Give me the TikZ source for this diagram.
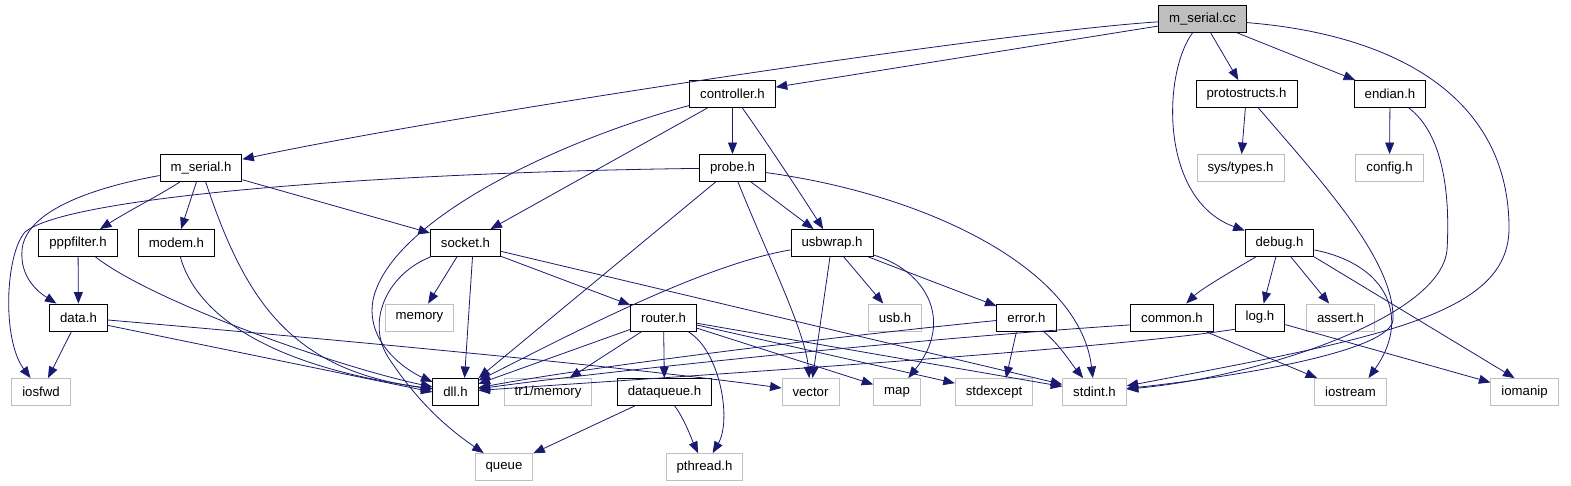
\documentclass[tikz,border=0pt]{standalone}
\usepackage{fontspec}
\setmainfont{Liberation Sans}
\usetikzlibrary{arrows.meta}
\definecolor{incblue}{HTML}{191970}
\definecolor{sysgray}{HTML}{BFBFBF}
\begin{document}
\begin{tikzpicture}[x=1pt,y=-1pt,
  every node/.style={rectangle,minimum height=27pt,inner xsep=10.5pt,inner ysep=0pt,font=\fontsize{13.2}{15}\selectfont},
  hdr/.style={draw=black,line width=0.9pt,fill=white},
  sys/.style={draw=sysgray,line width=0.9pt,fill=white},
  root/.style={draw=black,line width=0.9pt,fill=sysgray},
  inc/.style={draw=incblue,line width=0.8pt,-{Triangle[length=11.5pt,width=9pt]}}]
\useasboundingbox (0,0) rectangle (1571,485);
\node[root] (mserialcc) at (1202.5,19) {m\_serial.cc};
\node[hdr] (controller) at (732.5,94) {controller.h};
\node[hdr] (protostructs) at (1246.5,94) {protostructs.h};
\node[hdr] (endian) at (1390,94) {endian.h};
\node[hdr] (mserialh) at (201,168) {m\_serial.h};
\node[hdr] (probe) at (732.5,168) {probe.h};
\node[sys] (systypes) at (1240.5,168) {sys/types.h};
\node[sys] (config) at (1389.5,168) {config.h};
\node[hdr] (pppfilter) at (78,243) {pppfilter.h};
\node[hdr] (modem) at (176.5,243) {modem.h};
\node[hdr] (socket) at (465.5,243) {socket.h};
\node[hdr] (usbwrap) at (832,243) {usbwrap.h};
\node[hdr] (debug) at (1279.5,243) {debug.h};
\node[hdr] (data) at (78.5,317.5) {data.h};
\node[sys] (memory) at (419.5,317.5) {memory};
\node[hdr] (router) at (663.5,317.5) {router.h};
\node[sys] (usb) at (895,317.5) {usb.h};
\node[hdr] (error) at (1026.5,317.5) {error.h};
\node[hdr] (common) at (1172,317.5) {common.h};
\node[hdr] (log) at (1260,317.5) {log.h};
\node[sys] (assert) at (1340.5,317.5) {assert.h};
\node[sys] (iosfwd) at (41,392) {iosfwd};
\node[hdr] (dll) at (455.5,392) {dll.h};
\node[sys] (tr1memory) at (548,392) {tr1/memory};
\node[hdr] (dataqueue) at (664.5,392) {dataqueue.h};
\node[sys] (vector) at (810.5,392) {vector};
\node[sys] (map) at (897,392) {map};
\node[sys] (stdexcept) at (994,392) {stdexcept};
\node[sys] (stdint) at (1094.5,392) {stdint.h};
\node[sys] (iostream) at (1350.5,392) {iostream};
\node[sys] (iomanip) at (1524.5,392) {iomanip};
\node[sys] (queue) at (504,467) {queue};
\node[sys] (pthread) at (704.5,467) {pthread.h};
\draw[inc] (mserialcc) .. controls (1000,32) and (450,115) .. (mserialh);
\draw[inc] (mserialcc) -- (controller);
\draw[inc] (mserialcc) -- (protostructs);
\draw[inc] (mserialcc) -- (endian);
\draw[inc] (mserialcc) .. controls (1162,75) and (1160,200) .. (debug);
\draw[inc] (mserialcc) .. controls (1400,35) and (1510,100) .. (1509,230) .. controls (1507,315) and (1380,338) .. (stdint);
\draw[inc] (controller) -- (probe);
\draw[inc] (controller) .. controls (765,140) and (795,185) .. (usbwrap);
\draw[inc] (controller) -- (socket);
\draw[inc] (controller) .. controls (560,140) and (390,220) .. (373,300) .. controls (365,345) and (410,372) .. (dll);
\draw[inc] (mserialh) .. controls (160,195) and (130,210) .. (pppfilter);
\draw[inc] (mserialh) -- (modem);
\draw[inc] (mserialh) -- (socket);
\draw[inc] (mserialh) .. controls (245,300) and (290,370) .. (dll);
\draw[inc] (mserialh) .. controls (80,190) and (25,215) .. (22,250) .. controls (20,275) and (35,290) .. (data);
\draw[inc] (probe) .. controls (400,172) and (70,195) .. (25,232) .. controls (5,255) and (2,340) .. (iosfwd);
\draw[inc] (probe) -- (usbwrap);
\draw[inc] (probe) -- (dll.north east);
\draw[inc] (probe) .. controls (765,250) and (805,330) .. (vector);
\draw[inc] (probe) .. controls (930,195) and (1080,270) .. (stdint);
\draw[inc] (pppfilter) -- (data);
\draw[inc] (pppfilter) .. controls (150,300) and (330,365) .. (dll);
\draw[inc] (modem) .. controls (195,310) and (260,365) .. (dll);
\draw[inc] (data) -- (iosfwd);
\draw[inc] (data.-15) -- (dll.west);
\draw[inc] (data) .. controls (400,345) and (650,370) .. (vector);
\draw[inc] (socket) -- (memory);
\draw[inc] ([xshift=7pt]socket.south) -- ([xshift=9pt]dll.north);
\draw[inc] (socket) -- (router);
\draw[inc] (socket) .. controls (385,275) and (365,325) .. (390,360) .. controls (420,405) and (450,430) .. (queue);
\draw[inc] (socket) -- (stdint);
\draw[inc] (usbwrap) .. controls (700,265) and (560,340) .. (dll);
\draw[inc] (usbwrap) -- (vector);
\draw[inc] (usbwrap) -- (usb);
\draw[inc] (usbwrap) .. controls (925,270) and (955,320) .. (map);
\draw[inc] (usbwrap) -- (error);
\draw[inc] (router) -- (dll);
\draw[inc] (router) -- (tr1memory);
\draw[inc] (router) -- (dataqueue);
\draw[inc] (router) .. controls (720,350) and (732,420) .. (pthread);
\draw[inc] (router) -- (map);
\draw[inc] (router) -- (stdexcept);
\draw[inc] (router) -- (stdint);
\draw[inc] (dataqueue) -- (queue);
\draw[inc] (dataqueue) .. controls (685,420) and (692,440) .. (pthread);
\draw[inc] (error) .. controls (850,335) and (600,365) .. (dll);
\draw[inc] ([xshift=-10pt]error.south) -- ([xshift=12pt]stdexcept.north);
\draw[inc] (error) .. controls (1060,345) and (1070,362) .. (stdint);
\draw[inc] (common.-170) .. controls (900,340) and (600,372) .. (dll);
\draw[inc] (common) -- (iostream);
\draw[inc] (log.-155) .. controls (1100,350) and (700,375) .. (dll);
\draw[inc] (log) -- (iomanip);
\draw[inc] (debug) .. controls (1225,275) and (1200,290) .. (common);
\draw[inc] (debug) -- (log);
\draw[inc] (debug) -- (assert);
\draw[inc] (debug.south east) -- ([xshift=-10pt]iomanip.north);
\draw[inc] (debug) .. controls (1390,265) and (1410,320) .. ([xshift=18pt]iostream.north);
\draw[inc] (protostructs) -- (systypes);
\draw[inc] (protostructs) .. controls (1320,180) and (1395,260) .. (1393,320) .. controls (1390,350) and (1250,375) .. (stdint);
\draw[inc] (endian) -- (config);
\draw[inc] (endian) .. controls (1445,135) and (1450,200) .. (1447,250) .. controls (1440,320) and (1250,378) .. (stdint);
\end{tikzpicture}
\end{document}
